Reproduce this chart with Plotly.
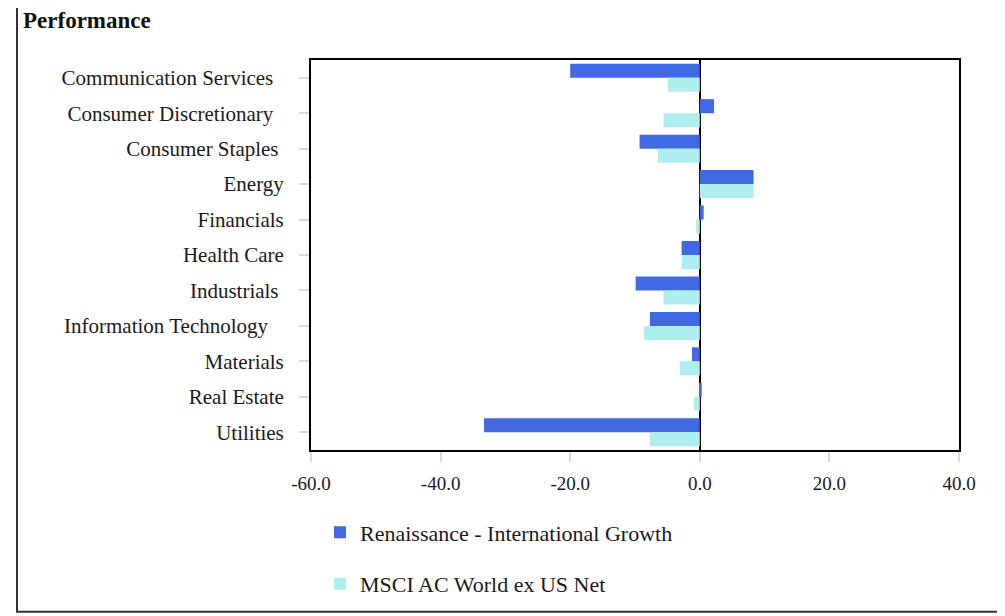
import plotly.graph_objects as go

NBSP = "\u00a0"

sectors = [
    "Communication Services" + NBSP * 2,
    "Consumer Discretionary" + NBSP * 2,
    "Consumer Staples" + NBSP,
    "Energy",
    "Financials",
    "Health Care",
    "Industrials" + NBSP,
    "Information Technology" + NBSP * 3,
    "Materials",
    "Real Estate",
    "Utilities",
]

renaissance = [-20.0, 2.2, -9.3, 8.3, 0.6, -2.8, -9.9, -7.7, -1.2, 0.3, -33.3]
msci = [-4.9, -5.6, -6.5, 8.3, -0.6, -2.8, -5.6, -8.6, -3.1, -0.9, -7.7]

x_ticks = [-60, -40, -20, 0, 20, 40]
x_tick_labels = ["-60.0", "-40.0", "-20.0", "0.0", "20.0", "40.0"]

FONT = "Liberation Serif"

# page body adds ~7px offset, so the figure is sized to the visible area
OFF = 7
W, H = 1005 - OFF, 616 - OFF
L, T = 310 - OFF, 59 - OFF
PW, PH = 648, 393
BOTTOM = T + PH

fig = go.Figure()

fig.add_trace(go.Bar(
    y=sectors,
    x=renaissance,
    orientation="h",
    name="Renaissance - International Growth",
    marker=dict(color="#4169E1", line=dict(width=0)),
    legend="legend",
    showlegend=True,
))

fig.add_trace(go.Bar(
    y=sectors,
    x=msci,
    orientation="h",
    name="MSCI AC World ex US Net",
    marker=dict(color="#AFEEEE", line=dict(width=0)),
    legend="legend2",
    showlegend=True,
))

# outer frame around the whole chart
fig.add_shape(
    type="rect", xref="paper", yref="paper",
    x0=(16 - OFF - L) / PW, x1=(1000 - OFF - L) / PW,
    y0=-(615 - OFF - BOTTOM) / PH, y1=1.3,
    line=dict(color="#333333", width=2),
    layer="below",
)

legend_style = dict(
    orientation="v",
    x=(319 - OFF - L) / PW, xanchor="left",
    yanchor="middle",
    font=dict(family=FONT, size=22, color="#1a1a1a"),
    bgcolor="rgba(0,0,0,0)",
)

fig.update_layout(
    width=W,
    height=H,
    showlegend=True,
    barmode="group",
    bargap=0.21,
    bargroupgap=0,
    plot_bgcolor="white",
    paper_bgcolor="white",
    font=dict(family=FONT, size=21, color="#1a1a1a"),
    title=dict(
        text="<b>Performance</b>",
        x=15 / W, xanchor="left",
        y=1 - 12 / H, yanchor="middle",
        font=dict(family=FONT, size=23, color="#111111"),
    ),
    margin=dict(l=L, r=W - L - PW, t=T, b=H - BOTTOM),
    xaxis=dict(
        range=[-60, 40],
        tickvals=x_ticks,
        ticktext=x_tick_labels,
        showgrid=False,
        zeroline=True,
        zerolinecolor="black",
        zerolinewidth=2,
        showline=True,
        mirror=True,
        linecolor="black",
        linewidth=2,
        ticks="outside",
        ticklen=10,
        tickwidth=2,
        tickcolor="#d9d9d9",
        ticklabelstandoff=5,
        tickfont=dict(family=FONT, size=19, color="#1a1a1a"),
    ),
    yaxis=dict(
        autorange="reversed",
        showgrid=False,
        showline=True,
        mirror=True,
        linecolor="black",
        linewidth=2,
        ticks="outside",
        ticklen=10,
        tickwidth=2,
        tickcolor="#d9d9d9",
        ticklabelstandoff=11,
        tickfont=dict(family=FONT, size=21, color="#1a1a1a"),
    ),
    legend=dict(legend_style, y=-(535 - OFF - BOTTOM) / PH),
    legend2=dict(legend_style, y=-(587 - OFF - BOTTOM) / PH),
)

fig.write_html("out.html")
